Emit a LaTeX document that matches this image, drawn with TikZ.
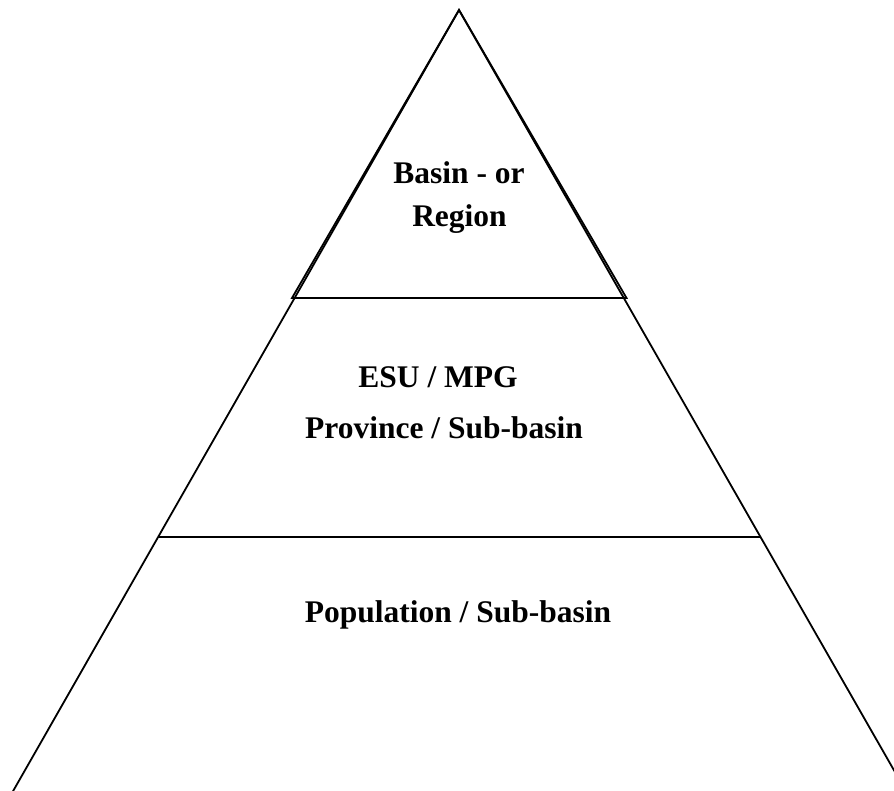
\documentclass[tikz,border=0pt]{standalone}
\usepackage{fontspec}
\setmainfont{Liberation Serif}
\begin{document}
\begin{tikzpicture}[x=1pt,y=-1pt,
  edge/.style={line width=1.8pt,line join=miter},
  lbl/.style={font=\fontsize{31.5}{38}\selectfont\bfseries,anchor=base,inner sep=0pt}]
\useasboundingbox (0,0) rectangle (894,791);
\clip (0,0) rectangle (894,791);
% big triangle
\coordinate (apex) at (459,10);
\coordinate (bl) at (8,800);
\coordinate (br) at (911,800);
\coordinate (ml) at (158,537);
\coordinate (mr) at (760,537);
% small top triangle
\coordinate (tl) at (292,298);
\coordinate (tr) at (626.5,298);
\draw[edge] (bl) -- (apex) -- (br);
\draw[edge] (tl) -- (apex) -- (tr) -- cycle;
\draw[edge] (ml) -- (mr);
% labels
\node[lbl] (basin) at (459,184) {Basin - or};
\node[lbl] (region) at (459.5,227) {Region};
\node[lbl] (esu) at (438,388) {ESU / MPG};
\node[lbl] (prov) at (444,438) {Province / Sub-basin};
\node[lbl] (pop) at (458,622) {Population / Sub-basin};
\end{tikzpicture}
\end{document}
